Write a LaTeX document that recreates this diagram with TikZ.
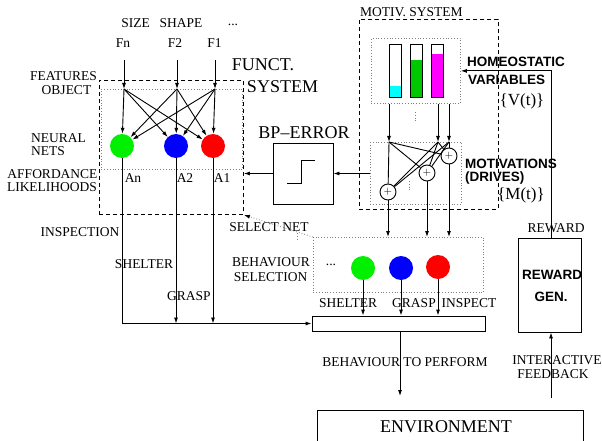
\documentclass[tikz,border=0pt]{standalone}
\usepackage{fontspec}
\setmainfont{Liberation Serif}
\newfontfamily\boldsans{Liberation Sans}
\usetikzlibrary{arrows.meta,calc}
\definecolor{bgreen}{RGB}{0,240,0}
\definecolor{bargreen}{RGB}{0,200,0}
\definecolor{bblue}{RGB}{0,0,255}
\definecolor{bred}{RGB}{255,0,0}
\definecolor{bcyan}{RGB}{0,255,255}
\definecolor{bmag}{RGB}{255,0,255}
\begin{document}
\begin{tikzpicture}[x=1pt,y=-1pt,
  lab/.style={inner sep=0pt, font=\fontsize{13.5}{14}\selectfont},
  biglab/.style={inner sep=0pt, font=\fontsize{18}{20}\selectfont},
  boldlab/.style={inner sep=0pt, font=\boldsans\bfseries\fontsize{13.5}{16}\selectfont},
  ln/.style={line width=0.9pt},
  arr/.style={line width=0.9pt, -{Latex[length=6pt,width=4pt]}},
  ball/.style={circle, minimum size=24pt, inner sep=0pt},
  plusnode/.style={circle, draw, fill=white, line width=0.9pt, minimum size=16pt, inner sep=0pt, font=\fontsize{11}{11}\selectfont},
  dashbox/.style={draw, line width=0.9pt, dash pattern=on 4pt off 3pt, inner sep=0pt, anchor=north west},
  dotbox/.style={draw, gray, line width=0.8pt, dotted, inner sep=0pt, anchor=north west},
  solidbox/.style={draw, line width=0.9pt, inner sep=0pt},
]
\useasboundingbox[fill=white] (0,0) rectangle (602,441);
\clip (0,0) rectangle (602,441);

% ---------- functional system ----------
\node[lab] (size) at (135.5,23) {SIZE};
\node[lab] (shape) at (181,23) {SHAPE};
\node[lab] (tdots) at (233,25) {...};
\node[lab] (fn) at (123,43) {Fn};
\node[lab] (f2) at (175,43) {F2};
\node[lab] (f1) at (214.5,43) {F1};
\node[biglab] (funct) at (263,65) {FUNCT.};
\node[biglab] (system) at (282.5,87) {SYSTEM};
\node[lab] (features) at (63.5,76.5) {FEATURES};
\node[lab] (object) at (66.5,90) {OBJECT};
\node[lab, anchor=west] (neural) at (31,138) {NEURAL};
\node[lab, anchor=west] (nets) at (31,151) {NETS};
\node[lab] (afford) at (52.5,174) {AFFORDANCE};
\node[lab] (likel) at (52,187) {LIKELIHOODS};

\node[dashbox, minimum width=144pt, minimum height=134pt] (fbox) at (99,80) {};
\node[dotbox, minimum width=141pt, minimum height=80pt] (fnets) at (101,89) {};

\coordinate (fnS) at (124,60);  \coordinate (fnE) at (124,89);
\coordinate (f2S) at (177,60);  \coordinate (f2E) at (177,89);
\coordinate (f1S) at (215,60);  \coordinate (f1E) at (215,89);
\draw[arr] (fnS) -- (fnE);
\draw[arr] (f2S) -- (f2E);
\draw[arr] (f1S) -- (f1E);

\node[ball, fill=bgreen] (n1) at (122,146) {};
\node[ball, fill=bblue] (n2) at (176,146) {};
\node[ball, fill=bred] (n3) at (213,146) {};
\foreach \s in {fnE,f2E,f1E}{
  \foreach \t in {n1,n2,n3}{
    \draw[arr] (\s) -- (\t);
  }
}
\node[lab] (an) at (133,178) {An};
\node[lab] (a2) at (185,178) {A2};
\node[lab] (a1) at (222,178) {A1};

% ---------- BP error ----------
\node[biglab] (bplab) at (304,133) {BP--ERROR};
\node[solidbox, minimum width=60pt, minimum height=61pt] (bp) at (303,173.5) {};
\draw[ln] ($(bp.center)+(-16,10)$) -- ++(14,0) -- ++(0,-23) -- ++(14,0);

% ---------- motivational system ----------
\node[lab, anchor=west] (motivlab) at (360,12) {MOTIV. SYSTEM};
\node[dashbox, minimum width=139pt, minimum height=190pt] (motiv) at (359,19) {};
\node[dotbox, minimum width=89pt, minimum height=65pt] (homeo) at (371,38) {};
\fill[bcyan] (389,86) rectangle (401,97);
\fill[bargreen] (410,60) rectangle (422,97);
\fill[bmag] (431,54) rectangle (443,97);
\draw[ln] (389,44) rectangle (401,97);
\draw[ln] (410,44) rectangle (422,97);
\draw[ln] (431,44) rectangle (443,97);
\draw[gray, dotted, line width=0.8pt] (415,112) -- (415,122);

\node[boldlab, anchor=west] (homeolab) at (467,62) {HOMEOSTATIC};
\node[boldlab, anchor=west] (varlab) at (468,80) {VARIABLES};
\node[inner sep=0pt, font=\fontsize{17}{18}\selectfont] (vt) at (522,101) {\{V(t)\}};

\node[dotbox, minimum width=91pt, minimum height=62pt] (drives) at (370,142) {};
\coordinate (m1) at (389,142);
\coordinate (m2) at (438,142);
\coordinate (m3) at (449,142);
\draw[arr] (m1 |- homeo.south) -- (m1);
\draw[arr] (m2 |- homeo.south) -- (m2);
\draw[arr] (m3 |- homeo.south) -- (m3);
\node[plusnode] (p1) at (388,192) {$+$};
\node[plusnode] (p2) at (427,173) {$+$};
\node[plusnode] (p3) at (449,156) {$+$};
\foreach \s in {m1,m2,m3}{
  \foreach \t in {p1,p2,p3}{
    \draw[ln] (\s) -- (\t);
  }
}
\draw[gray, dotted, line width=0.8pt] (409,181) -- (409,190);
\node[boldlab, anchor=west] (motlab) at (465,164) {MOTIVATIONS};
\node[boldlab, anchor=west] (drlab) at (465,178) {(DRIVES)};
\node[inner sep=0pt, font=\fontsize{17}{18}\selectfont] (mt) at (521,195) {\{M(t)\}};

\draw[arr] (drives.west |- bp.east) -- (bp.east);
\draw[arr] (bp.west) -- (bp.west -| fbox.east);

% ---------- behaviour selection ----------
\node[dotbox, minimum width=170pt, minimum height=55pt] (sel) at (313,237) {};
\node[lab] (selnet) at (269,227) {SELECT NET};
\draw[gray, dotted, line width=0.8pt, -{Latex[length=6pt,width=4pt,black]}] (sel.north west) -- (fbox.south east);
\draw[gray, dotted, line width=0.8pt] (297,233) -- (297,240);
\node[lab] (behav) at (271,262) {BEHAVIOUR};
\node[lab] (selection) at (270.5,277) {SELECTION};
\node[lab] (sdots) at (331,265) {...};
\node[ball, fill=bgreen] (s1) at (363,268) {};
\node[ball, fill=bblue] (s2) at (401,268) {};
\node[ball, fill=bred] (s3) at (438,267) {};
\draw[arr] (p1.south) -- (p1 |- sel.north);
\draw[arr] (p2.south) -- (p2 |- sel.north);
\draw[arr] (p3.south) -- (p3 |- sel.north);

\node[solidbox, minimum width=173pt, minimum height=15pt] (bar) at (398.5,323.5) {};
\draw[arr] (s1.south) -- (s1 |- bar.north);
\draw[arr] (s2.south) -- (s2 |- bar.north);
\draw[arr] (s3.south) -- (s3 |- bar.north);
\node[lab] (lshelter) at (348,303) {SHELTER};
\node[lab] (lgrasp) at (414,303) {GRASP};
\node[lab] (linspect) at (469,303) {INSPECT};

\draw[arr] (n1.south) |- (bar.west);
\draw[arr] (n2.south) -- (n2 |- bar.west);
\draw[arr] (n3.south) -- (n3 |- bar.west);
\node[lab] (inspection) at (80,232) {INSPECTION};
\node[lab] (shelter) at (144,264) {SHELTER};
\node[lab] (grasp) at (189,296) {GRASP};

% ---------- environment and reward ----------
\coordinate (bt) at (400,396);
\draw[arr] (bt |- bar.south) -- (bt);
\node[lab] (btp) at (405,362) {BEHAVIOUR TO PERFORM};
\node[solidbox, minimum width=266pt, minimum height=40pt, anchor=north west] (env) at (317,410) {};
\node[inner sep=0pt, font=\fontsize{18}{20}\selectfont] (envlab) at (446,427) {ENVIRONMENT};

\node[solidbox, minimum width=63pt, minimum height=94pt] (rew) at (549.5,285) {};
\node[boldlab] (rewlab1) at (552,275) {REWARD};
\node[boldlab] (rewlab2) at (551,297) {GEN.};
\node[lab] (rewtop) at (556,228) {REWARD};
\coordinate (rt) at (551,238);
\draw[arr] (rt) |- (homeo.east);
\coordinate (fb) at (551,398);
\draw[arr] (fb) -- (fb |- rew.south);
\node[lab] (inter) at (557,360) {INTERACTIVE};
\node[lab] (feedb) at (553,374) {FEEDBACK};
\end{tikzpicture}
\end{document}
